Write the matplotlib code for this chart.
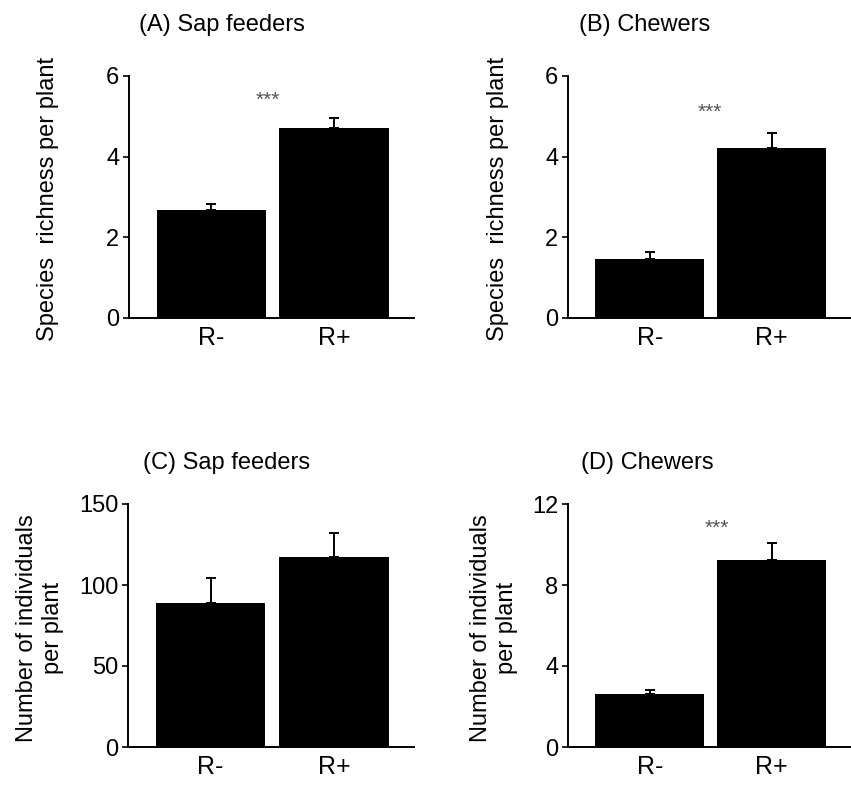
import numpy as np
import matplotlib.pyplot as plt

plt.rcParams['font.family'] = ['Liberation Sans', 'DejaVu Sans']

groups = ["R-", "R+"]

titles = ["(A) Sap feeders", "(B) Chewers", "(C) Sap feeders", "(D) Chewers"]
ylabels = ["Species  richness per plant", "Species  richness per plant",
           "Number of individuals\nper plant", "Number of individuals\nper plant"]

means = [[2.68, 4.70], [1.46, 4.21], [88.9, 117.3], [2.62, 9.23]]
errs = [[0.15, 0.25], [0.18, 0.37], [15.5, 15.0], [0.18, 0.85]]
ymax = [6, 6, 150, 12]
yticks = [[0, 2, 4, 6], [0, 2, 4, 6], [0, 50, 100, 150], [0, 4, 8, 12]]
signif = ["***", "***", "", "***"]

# layout (pixels of the 851x791 figure)
W, H = 851, 791
boxes = [(129, 76, 414, 318), (568, 76, 851, 318),
         (128, 504, 414, 747), (568, 504, 851, 747)]
title_pos = [(0.326, 1.21), (0.27, 1.21), (0.343, 1.169), (0.28, 1.169)]
label_x = [-0.284, -0.247, -0.308, -0.262]
star_pos = [(0.46, 0.90), (0.49, 0.85), None, (0.55, 0.90)]

fig = plt.figure(figsize=(W / 100, H / 100), dpi=100)

for i in range(4):
    x0, y0, x1, y1 = boxes[i]
    ax = fig.add_axes([x0 / W, 1 - y1 / H, (x1 - x0) / W, (y1 - y0) / H])
    x = np.arange(len(groups))
    ax.bar(x, means[i], width=0.89, color="black")
    ax.errorbar(x, means[i], yerr=[np.zeros(2), errs[i]], fmt="none",
                ecolor="black", elinewidth=1.4, capsize=3.5, capthick=1.4)
    ax.set_xlim(-0.67, 1.65)
    ax.set_ylim(0, ymax[i])
    ax.set_yticks(yticks[i])
    ax.set_xticks(x)
    ax.set_xticklabels(groups)
    ax.tick_params(axis="x", length=0, pad=6, labelsize=18)
    ax.tick_params(axis="y", length=4, width=1.2, pad=3, labelsize=17)
    for s in ["top", "right"]:
        ax.spines[s].set_visible(False)
    ax.spines["left"].set_linewidth(1.4)
    ax.spines["bottom"].set_linewidth(1.4)
    ax.set_ylabel(ylabels[i], fontsize=17, va="center", ha="center",
                  linespacing=1.25)
    ax.yaxis.set_label_coords(label_x[i], 0.49)
    ax.text(title_pos[i][0], title_pos[i][1], titles[i], transform=ax.transAxes,
            ha="center", va="center", fontsize=17)
    if signif[i]:
        ax.text(star_pos[i][0], star_pos[i][1] * ymax[i], signif[i],
                ha="center", va="center", fontsize=15, color="#555555")

fig.savefig("out.png", dpi=100)
